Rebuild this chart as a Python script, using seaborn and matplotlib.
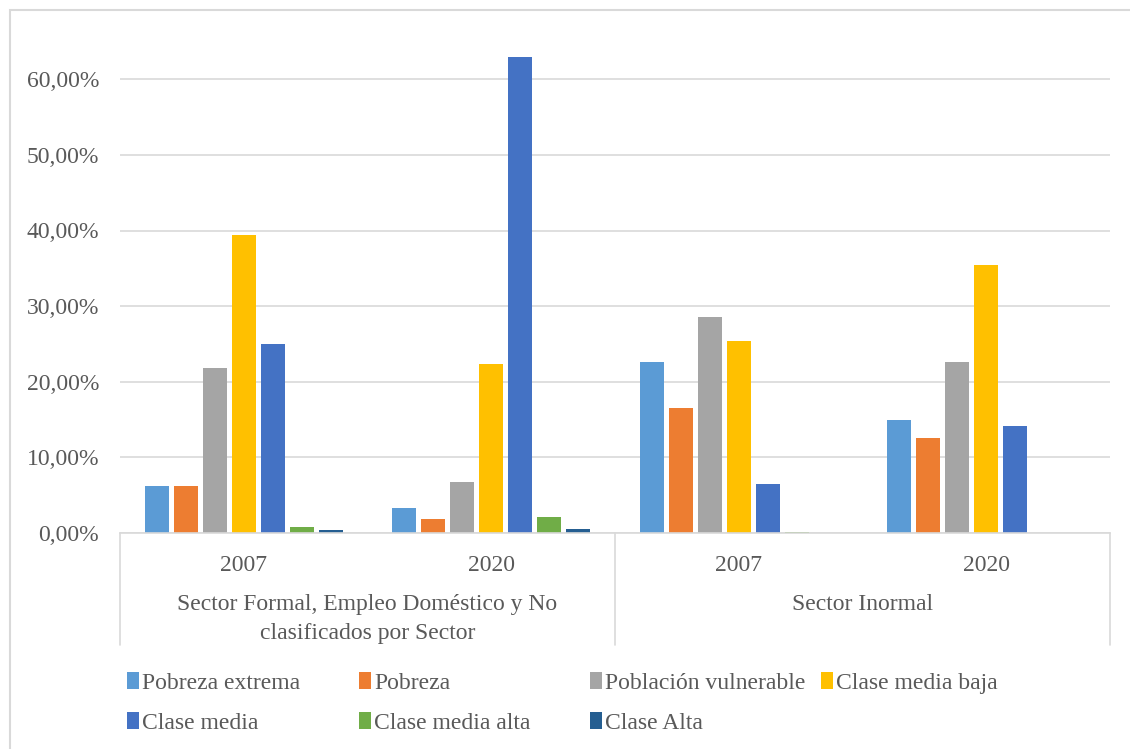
import pandas as pd
import matplotlib
matplotlib.use("Agg")
import matplotlib.pyplot as plt
import matplotlib.transforms as mtransforms
from matplotlib.patches import Patch, Rectangle
from matplotlib.ticker import FuncFormatter, MultipleLocator
import seaborn as sns

# datos (porcentajes)
columnas = ["F2007", "F2020", "I2007", "I2020"]
anios = ["2007", "2020", "2007", "2020"]
grupos = ["Sector Formal, Empleo Doméstico y No\nclasificados por Sector", "Sector Inormal"]
clases = ["Pobreza extrema", "Pobreza", "Población vulnerable", "Clase media baja",
          "Clase media", "Clase media alta", "Clase Alta"]

pobreza_extrema = [6.25, 3.26, 22.6, 14.9]
pobreza = [6.2, 1.85, 16.5, 12.55]
vulnerable = [21.8, 6.7, 28.5, 22.6]
media_baja = [39.4, 22.3, 25.4, 35.5]
media = [25.0, 63.0, 6.48, 14.1]
media_alta = [0.75, 2.07, 0.08, 0.0]
alta = [0.35, 0.49, 0.0, 0.0]

colores = ["#5B9BD5", "#ED7D31", "#A5A5A5", "#FFC000", "#4472C4", "#70AD47", "#255E91"]

series = [pobreza_extrema, pobreza, vulnerable, media_baja, media, media_alta, alta]
filas = []
for clase, vals in zip(clases, series):
    for col, v in zip(columnas, vals):
        filas.append({"col": col, "clase": clase, "valor": v})
df = pd.DataFrame(filas)

sns.set_style("white")
plt.rcParams["font.family"] = ["Liberation Serif", "DejaVu Serif"]
gris = "#595959"
linea = "#d9d9d9"

fig = plt.figure(figsize=(11.3, 7.49), dpi=100)
ax = fig.add_axes([120 / 1130, 1 - 533 / 749, 990 / 1130, 484 / 749])

sns.barplot(data=df, x="col", y="valor", hue="clase", order=columnas, hue_order=clases,
            palette=dict(zip(clases, colores)), saturation=1, width=0.82, gap=0.17,
            legend=False, linewidth=0, ax=ax)

ax.set_xlim(-0.5, 3.5)
ax.set_ylim(0, 64)
ax.yaxis.set_major_locator(MultipleLocator(10))
ax.yaxis.set_major_formatter(FuncFormatter(lambda v, p: f"{v:.2f}".replace(".", ",") + "%"))
ax.grid(axis="y", color=linea, linewidth=1.2)
ax.set_axisbelow(True)
for s in ["top", "right", "left"]:
    ax.spines[s].set_visible(False)
ax.spines["bottom"].set_color(linea)
ax.spines["bottom"].set_linewidth(1.2)
ax.tick_params(axis="y", length=0, pad=15, labelsize=17, labelcolor=gris)
ax.tick_params(axis="x", length=0, pad=16, labelsize=17, labelcolor=gris)
ax.set_xticks(range(4))
ax.set_xticklabels(anios)
ax.set_xlabel("")
ax.set_ylabel("")

# eje de categorias en dos niveles
trans = mtransforms.blended_transform_factory(ax.transData, ax.transAxes)
y_fondo = -(645 - 533) / 484
for xb in [-0.5, 1.5, 3.5]:
    ax.plot([xb, xb], [0, y_fondo], transform=trans, color=linea, lw=1.2, clip_on=False)
for i, g in enumerate(grupos):
    ax.text(0.5 + 2 * i, -(594 - 533) / 484, g, transform=trans, ha="center", va="top",
            fontsize=17, color=gris, linespacing=1.5)

# leyenda en 4 columnas de ancho fijo
handles = [Patch(facecolor=c, edgecolor="none") for c in colores]
cols_leyenda = [[0, 4], [1, 5], [2, 6], [3]]
x_cols = [127, 359, 590, 821]
for xc, idx in zip(x_cols, cols_leyenda):
    leg = fig.legend([handles[i] for i in idx], [clases[i] for i in idx],
                     loc="upper left", bbox_to_anchor=(xc / 1130, 1 - 672 / 749),
                     frameon=False, fontsize=17, handlelength=0.5, handleheight=0.7,
                     handletextpad=0.15, labelspacing=0.8, borderaxespad=0, borderpad=0)
    for t in leg.get_texts():
        t.set_color(gris)

# marco del grafico
fig.patches.append(Rectangle((10 / 1130, -0.05), 1.1, 1.05 - 10 / 749, transform=fig.transFigure,
                             fill=False, edgecolor=linea, lw=1.5))

fig.savefig("out.png", dpi=100)
